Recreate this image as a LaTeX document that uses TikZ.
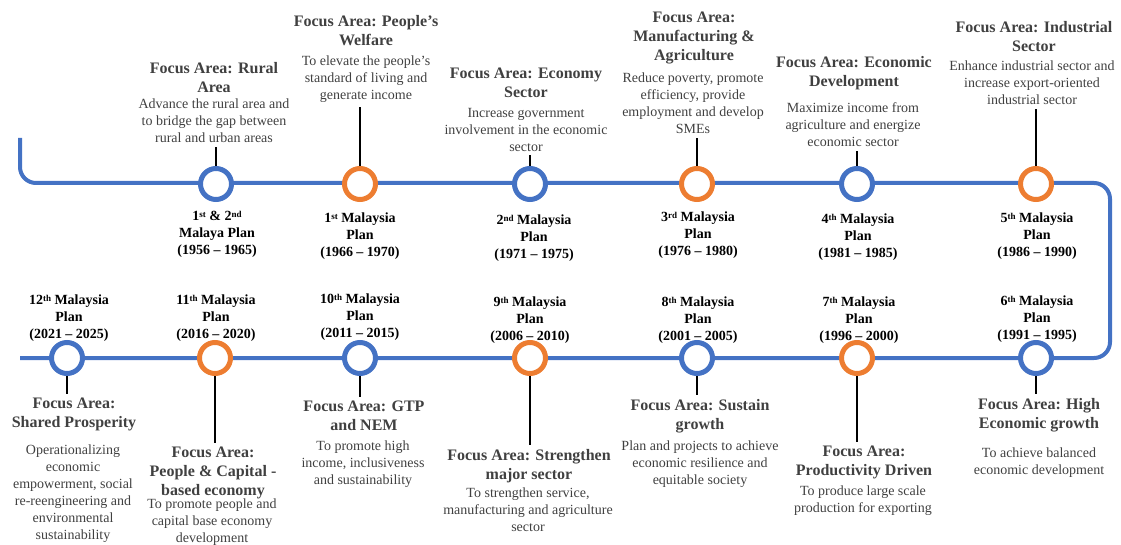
\documentclass[tikz,border=0pt]{standalone}
\usepackage{fontspec}
\setmainfont{Liberation Serif}
\usepackage{tikz}
\definecolor{planblue}{RGB}{68,114,196}
\definecolor{planorange}{RGB}{237,125,49}
\definecolor{focusgray}{RGB}{64,64,64}
\newcommand{\ordsup}[1]{\smash{\raisebox{0.5ex}{\fontsize{9}{9}\selectfont #1}}}

\begin{document}
\begin{tikzpicture}[x=1pt, y=-1pt,
    ring/.style={circle, draw, line width=5pt, fill=white, minimum size=31pt, inner sep=0pt},
    bluering/.style={ring, draw=planblue},
    orangering/.style={ring, draw=planorange},
    plantext/.style={align=center, inner sep=0pt, outer sep=4pt, anchor=north, font=\fontsize{14}{17}\selectfont\bfseries},
    focustitle/.style={align=center, inner sep=0pt, outer sep=4pt, anchor=north, text=focusgray, font=\fontsize{16}{19}\selectfont\bfseries},
    focustext/.style={align=center, inner sep=0pt, outer sep=4pt, anchor=north, text=focusgray, font=\fontsize{14}{17}\selectfont},
    stem/.style={line width=1.6pt},
    track/.style={line width=4pt, draw=planblue, rounded corners=16pt}]
    \useasboundingbox (0,0) rectangle (1121,545);

    % the track
    \coordinate (start) at (20,138);
    \coordinate (finish) at (20,358);
    \draw[track] (start) |- (1110,183) |- (finish);

    % top row
    \node[bluering] (mp0) at (216,184) {};
    \node[orangering] (mp1) at (360,184) {};
    \node[bluering] (mp2) at (530,184) {};
    \node[orangering] (mp3) at (697,184) {};
    \node[bluering] (mp4) at (857,184) {};
    \node[orangering] (mp5) at (1036,184) {};

    % bottom row
    \node[bluering] (mp6) at (1036,358) {};
    \node[orangering] (mp7) at (857,358) {};
    \node[bluering] (mp8) at (697,358) {};
    \node[orangering] (mp9) at (530,358) {};
    \node[bluering] (mp10) at (360,358) {};
    \node[orangering] (mp11) at (215,358) {};
    \node[bluering] (mp12) at (67,358) {};

    % plan labels
    \node[plantext] (lab0) at (217,207) {1\ordsup{st} \& 2\ordsup{nd}\\Malaya Plan\\(1956 -- 1965)};
    \node[plantext] (lab1) at (360,209) {1\ordsup{st} Malaysia\\Plan\\(1966 -- 1970)};
    \node[plantext] (lab2) at (534,211) {2\ordsup{nd} Malaysia\\Plan\\(1971 -- 1975)};
    \node[plantext] (lab3) at (698,208) {3\ordsup{rd} Malaysia\\Plan\\(1976 -- 1980)};
    \node[plantext] (lab4) at (858,210) {4\ordsup{th} Malaysia\\Plan\\(1981 -- 1985)};
    \node[plantext] (lab5) at (1037,209) {5\ordsup{th} Malaysia\\Plan\\(1986 -- 1990)};
    \node[plantext] (lab6) at (1037,292) {6\ordsup{th} Malaysia\\Plan\\(1991 -- 1995)};
    \node[plantext] (lab7) at (859,293) {7\ordsup{th} Malaysia\\Plan\\(1996 -- 2000)};
    \node[plantext] (lab8) at (698,293) {8\ordsup{th} Malaysia\\Plan\\(2001 -- 2005)};
    \node[plantext] (lab9) at (530,293) {9\ordsup{th} Malaysia\\Plan\\(2006 -- 2010)};
    \node[plantext] (lab10) at (360,290) {10\ordsup{th} Malaysia\\Plan\\(2011 -- 2015)};
    \node[plantext] (lab11) at (216,291) {11\ordsup{th} Malaysia\\Plan\\(2016 -- 2020)};
    \node[plantext] (lab12) at (69,291) {12\ordsup{th} Malaysia\\Plan\\(2021 -- 2025)};

    % focus areas, top
    \node[focustitle] (rural) at (214,58) {Focus Area: Rural\\Area};
    \node[focustext] (ruraltext) at (214,95) {Advance the rural area and\\to bridge the gap between\\rural and urban areas};
    \node[focustitle] (welfare) at (366,11) {Focus Area: People's\\Welfare};
    \node[focustext] (welfaretext) at (366,52) {To elevate the people's\\standard of living and\\generate income};
    \node[focustitle] (economy) at (526,64) {Focus Area: Economy\\Sector};
    \node[focustext] (economytext) at (526,104) {Increase government\\involvement in the economic\\sector};
    \node[focustitle] (manuf) at (694,8) {Focus Area:\\Manufacturing \&\\Agriculture};
    \node[focustext] (manuftext) at (693,69) {Reduce poverty, promote\\efficiency, provide\\employment and develop\\SMEs};
    \node[focustitle] (develop) at (854,52) {Focus Area: Economic\\Development};
    \node[focustext] (developtext) at (853,99) {Maximize income from\\agriculture and energize\\economic sector};
    \node[focustitle] (industry) at (1034,17) {Focus Area: Industrial\\Sector};
    \node[focustext] (industrytext) at (1032,57) {Enhance industrial sector and\\increase export-oriented\\industrial sector};

    % focus areas, bottom
    \node[focustitle] (high) at (1039,394) {Focus Area: High\\Economic growth};
    \node[focustext] (hightext) at (1039,444) {To achieve balanced\\economic development};
    \node[focustitle] (product) at (864,442) {Focus Area:\\Productivity Driven};
    \node[focustext] (producttext) at (863,482) {To produce large scale\\production for exporting};
    \node[focustitle] (sustain) at (700,395) {Focus Area: Sustain\\growth};
    \node[focustext] (sustaintext) at (700,437) {Plan and projects to achieve\\economic resilience and\\equitable society};
    \node[focustitle] (strength) at (529,445) {Focus Area: Strengthen\\major sector};
    \node[focustext] (strengthtext) at (528,484) {To strengthen service,\\manufacturing and agriculture\\sector};
    \node[focustitle] (gtp) at (364,397) {Focus Area: GTP\\and NEM};
    \node[focustext] (gtptext) at (363,437) {To promote high\\income, inclusiveness\\and sustainability};
    \node[focustitle] (capital) at (213,443) {Focus Area:\\People \& Capital -\\based economy};
    \node[focustext] (capitaltext) at (212,495) {To promote people and\\capital base economy\\development};
    \node[focustitle] (shared) at (74,394) {Focus Area:\\Shared Prosperity};
    \node[focustext] (sharedtext) at (73,441) {Operationalizing\\economic\\empowerment, social\\re-reengineering and\\environmental\\sustainability};

    % stems
    \draw[stem] (mp0.north) -- (mp0.north |- ruraltext.south);
    \draw[stem] (mp1.north) -- (mp1.north |- welfaretext.south);
    \draw[stem] (mp2.north) -- (mp2.north |- economytext.south);
    \draw[stem] (mp3.north) -- (mp3.north |- manuftext.south);
    \draw[stem] (mp4.north) -- (mp4.north |- developtext.south);
    \draw[stem] (mp5.north) -- (mp5.north |- industrytext.south);
    \draw[stem] (mp6.south) -- (mp6.south |- high.north);
    \draw[stem] (mp7.south) -- (mp7.south |- product.north);
    \draw[stem] (mp8.south) -- (mp8.south |- sustain.north);
    \draw[stem] (mp9.south) -- (mp9.south |- strength.north);
    \draw[stem] (mp10.south) -- (mp10.south |- gtp.north);
    \draw[stem] (mp11.south) -- (mp11.south |- capital.north);
    \draw[stem] (mp12.south) -- (mp12.south |- shared.north);
\end{tikzpicture}
\end{document}
